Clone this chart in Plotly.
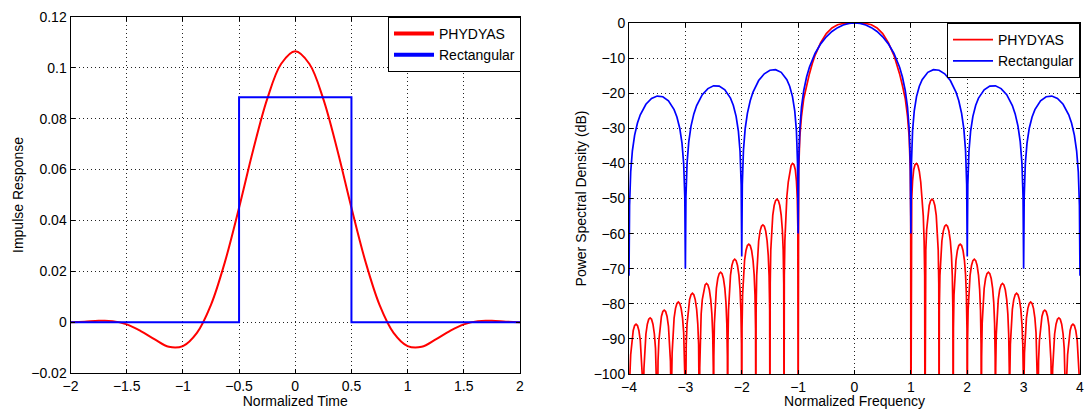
import plotly.graph_objects as go

# ---------------- impulse responses (normalized time) ----------------
TIME = [-2.0, -1.875, -1.75, -1.625, -1.5, -1.375, -1.25, -1.125, -1.0, -0.875,
        -0.75, -0.625, -0.5, -0.375, -0.25, -0.125, 0.0, 0.125, 0.25, 0.375,
        0.5, 0.625, 0.75, 0.875, 1.0, 1.125, 1.25, 1.375, 1.5, 1.625, 1.75,
        1.875, 2.0]
PHYDYAS_IMP = [0.0, 0.0002, 0.0005, 0.0004, -0.0009, -0.0035, -0.0068, -0.0097,
               -0.0094, -0.0042, 0.0068, 0.0238, 0.0450, 0.0676, 0.0877, 0.1016,
               0.1065, 0.1016, 0.0877, 0.0676, 0.0450, 0.0238, 0.0068, -0.0042,
               -0.0094, -0.0097, -0.0068, -0.0035, -0.0009, 0.0004, 0.0005,
               0.0002, 0.0]
RECT_TIME = [-2.0, -0.5, -0.5, 0.5, 0.5, 2.0]
RECT_IMP = [0.0, 0.0, 0.0884, 0.0884, 0.0, 0.0]

# ---------------- power spectral densities (f >= 0, dB) ----------------
RECT_F_POS = [
    0.0, 0.1, 0.2, 0.3, 0.4, 0.5, 0.6, 0.7, 0.8, 0.85, 0.9, 0.94, 0.97, 0.99, 1.0,
    1.01, 1.03, 1.06, 1.1, 1.15, 1.2, 1.3, 1.4, 1.5, 1.6, 1.7, 1.8, 1.85, 1.9, 1.94, 1.97, 1.99, 2.0,
    2.01, 2.03, 2.06, 2.1, 2.15, 2.2, 2.3, 2.4, 2.5, 2.6, 2.7, 2.8, 2.85, 2.9, 2.94, 2.97, 2.99, 3.0,
    3.01, 3.03, 3.06, 3.1, 3.15, 3.2, 3.3, 3.4, 3.5, 3.6, 3.7, 3.8, 3.85, 3.9, 3.94, 3.97, 3.99, 4.0,
]
RECT_DB_POS = [
    0.0, -0.14, -0.58, -1.33, -2.42, -3.92, -5.94, -8.69, -12.62, -15.39, -19.23, -23.95, -30.21, -39.91, -60.0,
    -40.09, -30.73, -25.0, -20.97, -18.02, -16.15, -14.06, -13.31, -13.46, -14.47, -16.39, -19.67, -22.15, -25.72, -30.25, -36.36, -45.98, -66.5,
    -46.07, -36.62, -30.77, -26.59, -23.45, -21.41, -19.02, -17.99, -17.9, -18.68, -20.41, -23.51, -25.9, -29.39, -33.86, -39.93, -49.52, -70.0,
    -49.57, -40.1, -34.21, -29.97, -26.77, -24.67, -22.15, -21.01, -20.82, -21.51, -23.15, -26.16, -28.51, -31.96, -36.4, -42.45, -52.02, -72.0,
]

PHYD_F_POS = [
    0.0, 0.1, 0.2, 0.3, 0.4, 0.5, 0.6, 0.7, 0.75, 0.8, 0.85, 0.9, 0.94, 0.97, 0.99, 0.997, 1.0,
    1.005, 1.015, 1.03, 1.05, 1.075, 1.1, 1.125, 1.15, 1.175, 1.2, 1.22, 1.235, 1.245, 1.25,
    1.255, 1.265, 1.28, 1.3, 1.325, 1.35, 1.375, 1.4, 1.425, 1.45, 1.47, 1.485, 1.495, 1.5,
    1.505, 1.515, 1.53, 1.55, 1.575, 1.6, 1.625, 1.65, 1.675, 1.7, 1.72, 1.735, 1.745, 1.75,
    1.755, 1.765, 1.78, 1.8, 1.825, 1.85, 1.875, 1.9, 1.925, 1.95, 1.97, 1.985, 1.995, 2.0,
    2.005, 2.015, 2.03, 2.05, 2.075, 2.1, 2.125, 2.15, 2.175, 2.2, 2.22, 2.235, 2.245, 2.25,
    2.255, 2.265, 2.28, 2.3, 2.325, 2.35, 2.375, 2.4, 2.425, 2.45, 2.47, 2.485, 2.495, 2.5,
    2.505, 2.515, 2.53, 2.55, 2.575, 2.6, 2.625, 2.65, 2.675, 2.7, 2.72, 2.735, 2.745, 2.75,
    2.755, 2.765, 2.78, 2.8, 2.825, 2.85, 2.875, 2.9, 2.925, 2.95, 2.97, 2.985, 2.995, 3.0,
    3.005, 3.015, 3.03, 3.05, 3.075, 3.1, 3.125, 3.15, 3.175, 3.2, 3.22, 3.235, 3.245, 3.25,
    3.255, 3.265, 3.28, 3.3, 3.325, 3.35, 3.375, 3.4, 3.425, 3.45, 3.47, 3.485, 3.495, 3.5,
    3.505, 3.515, 3.53, 3.55, 3.575, 3.6, 3.625, 3.65, 3.675, 3.7, 3.72, 3.735, 3.745, 3.75,
    3.755, 3.765, 3.78, 3.8, 3.825, 3.85, 3.875, 3.9, 3.925, 3.95, 3.97, 3.985, 3.995, 4.0,
]
PHYD_DB_POS = [
    0.0, -0.03, -0.15, -0.5, -1.4, -3.0, -5.6, -9.2, -11.6, -14.5, -17.8, -21.5, -26.5, -32.5, -42.0, -55.0, -120.0,
    -58.0, -50.0, -45.0, -41.8, -40.3, -40.0, -40.6, -42.3, -45.3, -49.5, -55.0, -62.0, -72.0, -120.0,
    -74.2, -64.7, -58.9, -54.8, -52.0, -50.6, -50.2, -50.6, -52.0, -54.8, -58.9, -64.7, -74.2, -120.0,
    -81.5, -72.0, -66.2, -62.1, -59.3, -57.9, -57.5, -57.9, -59.3, -62.1, -66.2, -72.0, -81.5, -120.0,
    -87.0, -77.5, -71.7, -67.6, -64.8, -63.4, -63.0, -63.4, -64.8, -67.6, -71.7, -77.5, -87.0, -120.0,
    -91.3, -81.8, -76.0, -71.9, -69.1, -67.7, -67.3, -67.7, -69.1, -71.9, -76.0, -81.8, -91.3, -120.0,
    -95.0, -85.5, -79.7, -75.6, -72.8, -71.4, -71.0, -71.4, -72.8, -75.6, -79.7, -85.5, -95.0, -120.0,
    -98.2, -88.7, -82.9, -78.8, -76.0, -74.6, -74.2, -74.6, -76.0, -78.8, -82.9, -88.7, -98.2, -120.0,
    -101.0, -91.5, -85.7, -81.6, -78.8, -77.4, -77.0, -77.4, -78.8, -81.6, -85.7, -91.5, -101.0, -120.0,
    -103.5, -94.0, -88.2, -84.1, -81.3, -79.9, -79.5, -79.9, -81.3, -84.1, -88.2, -94.0, -103.5, -120.0,
    -105.8, -96.3, -90.5, -86.4, -83.6, -82.2, -81.8, -82.2, -83.6, -86.4, -90.5, -96.3, -105.8, -120.0,
    -108.0, -98.5, -92.7, -88.6, -85.8, -84.4, -84.0, -84.4, -85.8, -88.6, -92.7, -98.5, -108.0, -120.0,
    -109.8, -100.3, -94.5, -90.4, -87.6, -86.2, -85.8, -86.2, -87.6, -90.4, -94.5, -100.3, -109.8, -120.0,
]

SERIES_NAMES = ["PHYDYAS", "Rectangular"]
RED = "#ff0000"
BLUE = "#0000ff"
FONT = "Liberation Sans, Arial, sans-serif"


def symmetric(freqs, values):
    """Both spectra are even in frequency: build the full -f..f curve."""
    xs = [-v for v in reversed(freqs)] + list(freqs[1:])
    ys = list(reversed(values)) + list(values[1:])
    return xs, ys


rect_f, rect_db = symmetric(RECT_F_POS, RECT_DB_POS)
phyd_f, phyd_db = symmetric(PHYD_F_POS, PHYD_DB_POS)

fig = go.Figure()

# left panel: impulse responses
fig.add_trace(go.Scatter(x=TIME, y=PHYDYAS_IMP, mode="lines", line=dict(color=RED, width=2, shape="spline"),
                         showlegend=False, xaxis="x", yaxis="y"))
fig.add_trace(go.Scatter(x=RECT_TIME, y=RECT_IMP, mode="lines", line=dict(color=BLUE, width=2),
                         showlegend=False, xaxis="x", yaxis="y"))
# legend entries of the left panel use a heavier stroke
fig.add_trace(go.Scatter(x=[None], y=[None], mode="lines", line=dict(color=RED, width=4),
                         name=SERIES_NAMES[0], legend="legend", xaxis="x", yaxis="y"))
fig.add_trace(go.Scatter(x=[None], y=[None], mode="lines", line=dict(color=BLUE, width=4),
                         name=SERIES_NAMES[1], legend="legend", xaxis="x", yaxis="y"))

# right panel: power spectral densities
fig.add_trace(go.Scatter(x=phyd_f, y=phyd_db, mode="lines", line=dict(color=RED, width=1.7),
                         name=SERIES_NAMES[0], legend="legend2", xaxis="x2", yaxis="y2"))
fig.add_trace(go.Scatter(x=rect_f, y=rect_db, mode="lines", line=dict(color=BLUE, width=1.7),
                         name=SERIES_NAMES[1], legend="legend2", xaxis="x2", yaxis="y2"))

W, H = 1086, 409
axis_common = dict(
    showline=True, linecolor="black", linewidth=1, mirror="ticks",
    ticks="inside", ticklen=4, tickcolor="black", tickwidth=1,
    showgrid=True, gridcolor="#222222", gridwidth=1, griddash="1px,3px",
    zeroline=False, automargin=False,
    tickfont=dict(family=FONT, size=14, color="black"),
    title_font=dict(family=FONT, size=14, color="black"),
)

legend_common = dict(
    bgcolor="white", bordercolor="black", borderwidth=1,
    font=dict(family=FONT, size=14, color="black"),
    xanchor="right", yanchor="top", itemwidth=40, tracegroupgap=0,
)

fig.update_layout(
    width=W, height=H,
    margin=dict(l=0, r=0, t=0, b=0),
    paper_bgcolor="white", plot_bgcolor="white",
    xaxis=dict(domain=[70.5 / W, 520 / W], range=[-2, 2], dtick=0.5, tick0=-2,
               title=dict(text="Normalized Time", standoff=0), anchor="y", **axis_common),
    yaxis=dict(domain=[(H - 373) / H, (H - 17) / H], range=[-0.02, 0.12], dtick=0.02, tick0=0,
               title=dict(text="Impulse Response", standoff=4), anchor="x", **axis_common),
    xaxis2=dict(domain=[629 / W, 1080 / W], range=[-4, 4], dtick=1, tick0=-4,
                title=dict(text="Normalized Frequency", standoff=1), anchor="y2", **axis_common),
    yaxis2=dict(domain=[(H - 374) / H, (H - 23) / H], range=[-100, 0], dtick=10, tick0=-100,
                title=dict(text="Power Spectral Density (dB)", standoff=3), anchor="x2", **axis_common),
    legend=dict(x=521 / W, y=(H - 17) / H, **legend_common),
    legend2=dict(x=1080 / W, y=(H - 23) / H, **legend_common),
)

fig.write_html("out.html")
